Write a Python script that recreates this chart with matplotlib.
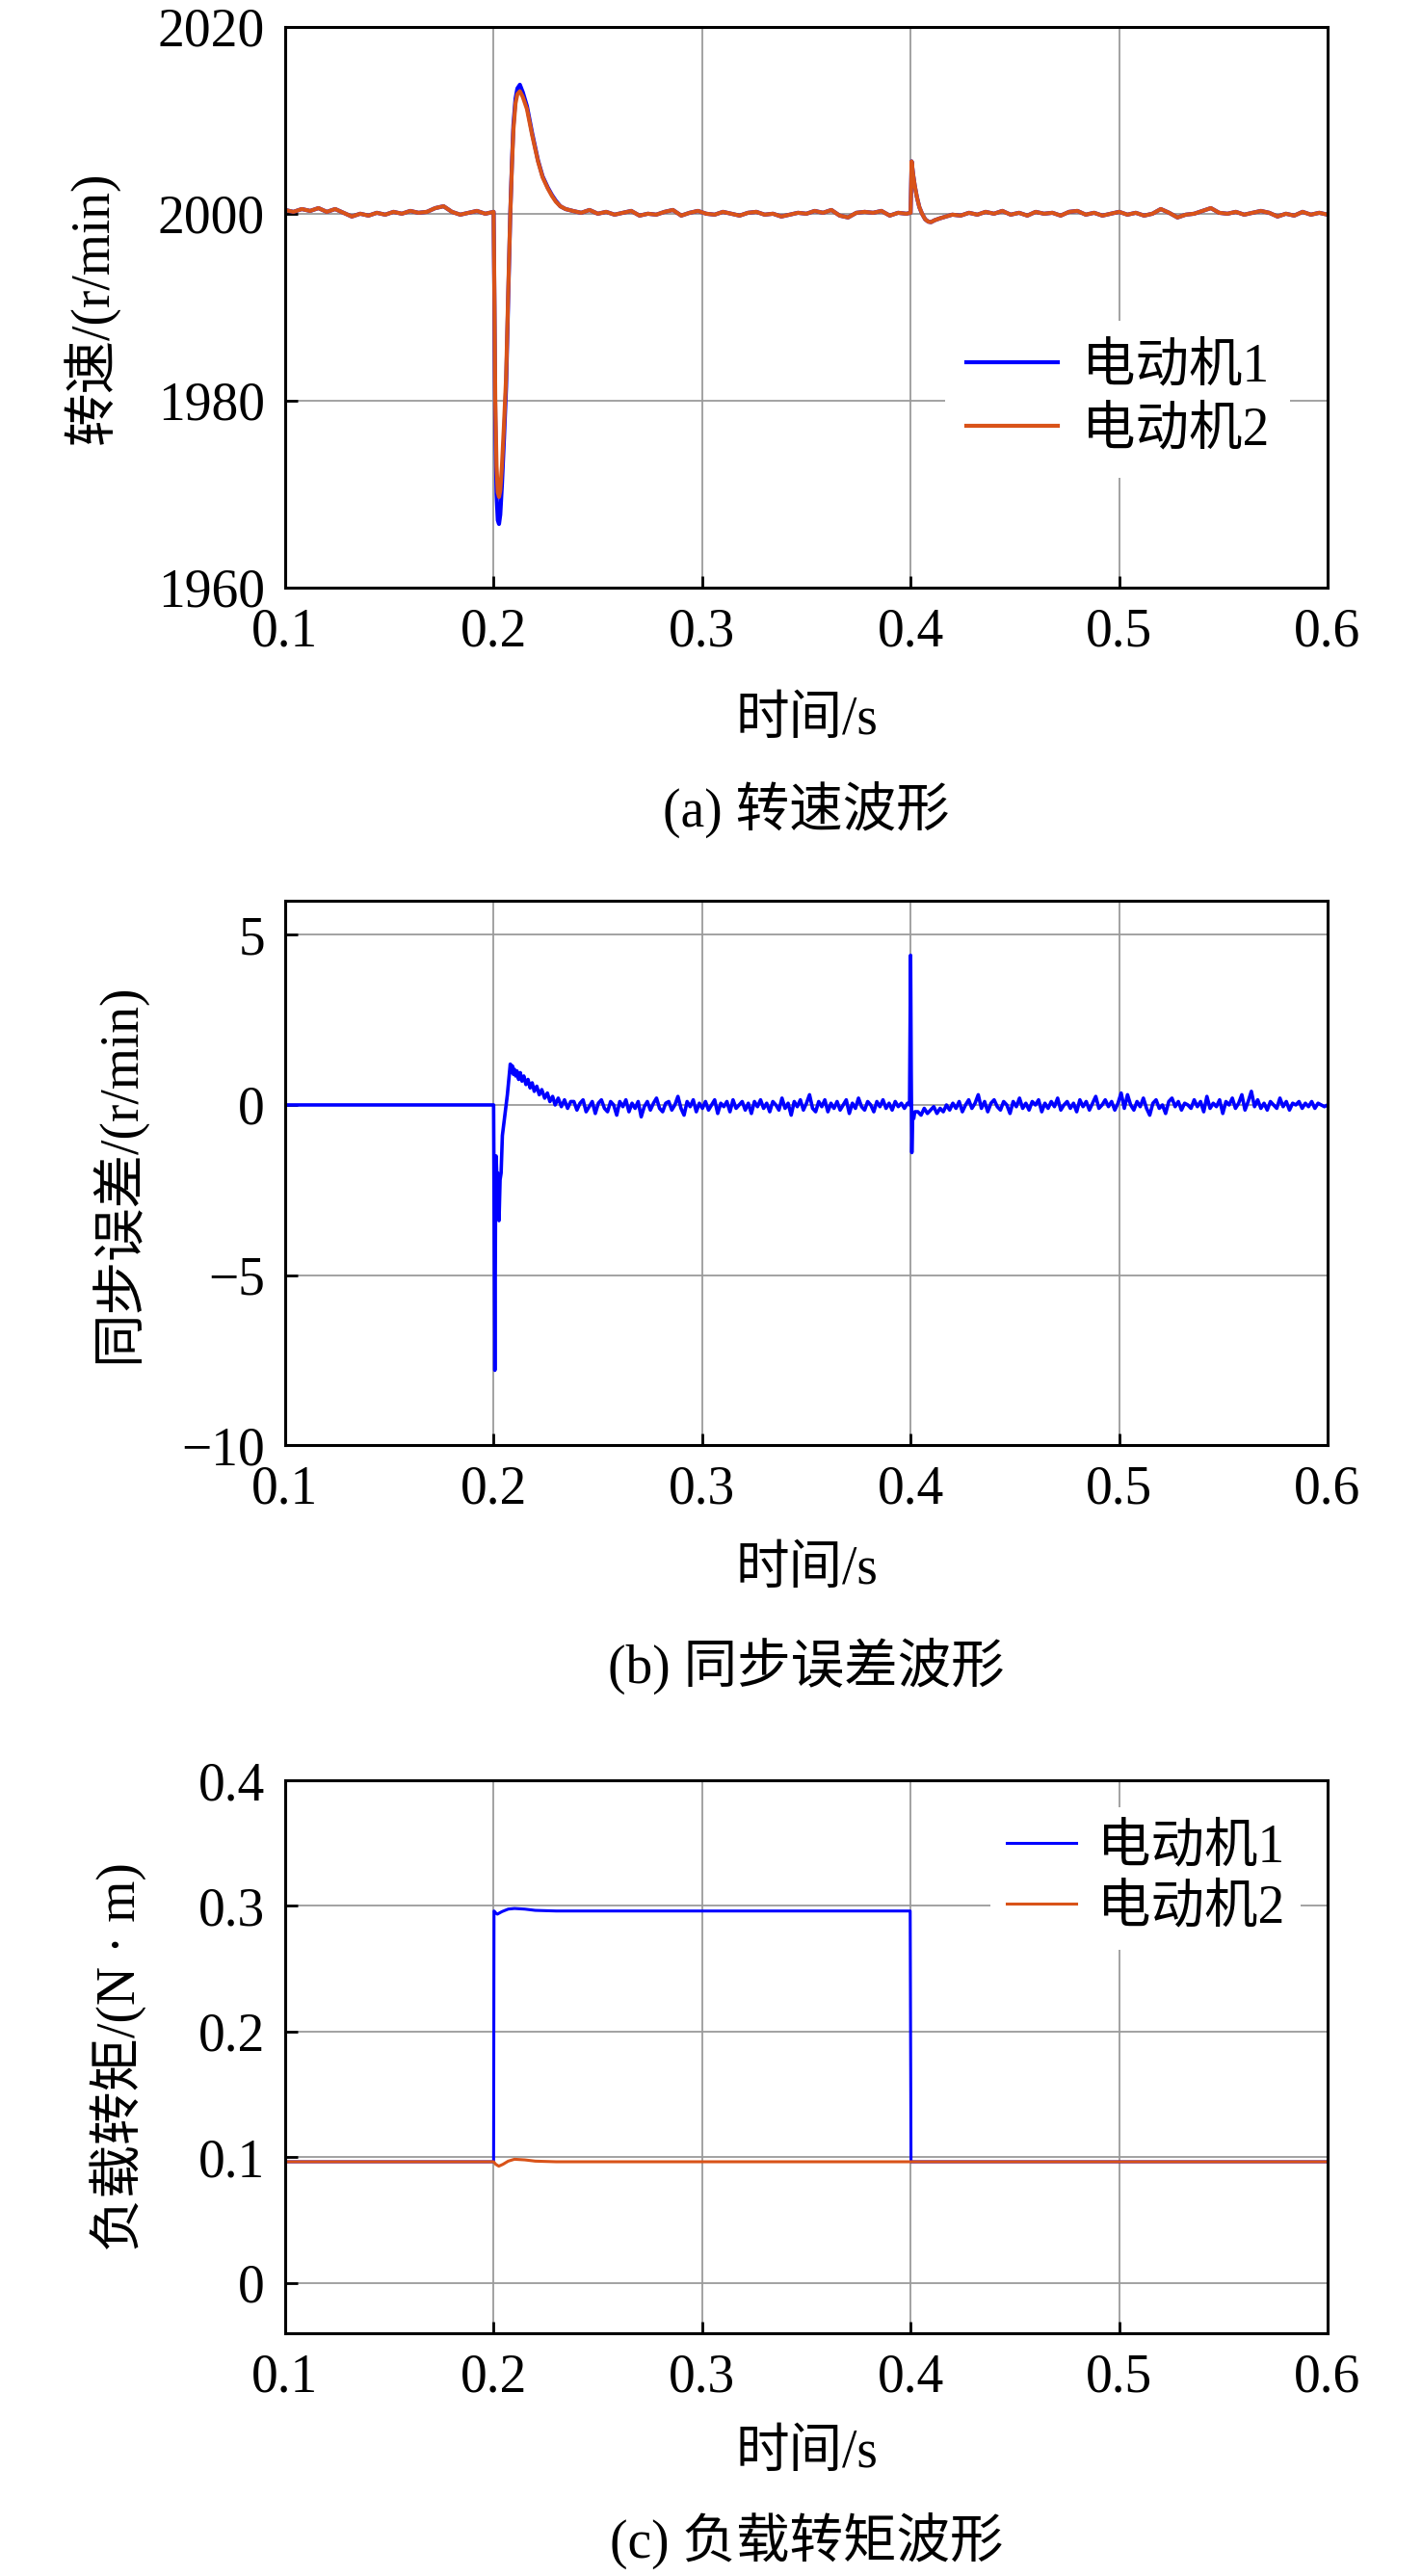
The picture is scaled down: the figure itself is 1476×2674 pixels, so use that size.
import matplotlib
matplotlib.use('Agg')
import matplotlib.pyplot as plt
import numpy as np

plt.rcParams['font.family'] = ['Liberation Serif', 'Noto Sans CJK SC']
plt.rcParams['font.size'] = 40

blue = '#0000FF'
orange = '#D95319'

x_ticks = [0.1, 0.2, 0.3, 0.4, 0.5, 0.6]

# ---------- (a) 转速 ----------
speed_noise_1 = [2000.4, 2000.2, 2000.5, 2000.3, 2000.6, 2000.2, 2000.5, 2000.1, 1999.7, 2000.0,
                 1999.8, 2000.1, 1999.9, 2000.2, 2000.0, 2000.3, 2000.1, 2000.2, 2000.6, 2000.8,
                 2000.2, 1999.9, 2000.1, 2000.3, 2000.0]
t_dip = [0.2000, 0.2004, 0.2008, 0.2014, 0.2020, 0.2026, 0.2032, 0.2040, 0.2050, 0.2060,
         0.2070, 0.2080, 0.2088, 0.2095, 0.2105, 0.2114, 0.2126, 0.2140, 0.2160, 0.2185,
         0.2213, 0.2235, 0.2260, 0.2280, 0.2298, 0.2320, 0.2345]
dip_m1 = [2000.2, 1990.0, 1978.0, 1970.0, 1967.2, 1966.8, 1967.8, 1971.0, 1976.0, 1981.5,
          1991.0, 2000.0, 2005.5, 2009.5, 2012.3, 2013.4, 2013.8, 2013.0, 2011.5, 2008.6,
          2005.7, 2004.0, 2002.8, 2002.0, 2001.4, 2000.8, 2000.5]
dip_m2 = [2000.2, 1991.0, 1980.0, 1973.0, 1970.2, 1969.7, 1970.4, 1973.0, 1977.5, 1982.5,
          1991.5, 2000.0, 2005.2, 2009.0, 2011.8, 2012.8, 2013.1, 2012.5, 2011.2, 2008.4,
          2005.6, 2003.9, 2002.7, 2001.9, 2001.3, 2000.8, 2000.5]
speed_noise_2 = [2000.3, 2000.1, 2000.4, 2000.0, 2000.2, 1999.9, 2000.1, 2000.3, 1999.8, 2000.0,
                 1999.9, 2000.2, 2000.4, 1999.8, 2000.1, 2000.3, 2000.0, 1999.9, 2000.2, 2000.0,
                 1999.8, 2000.1, 2000.2, 1999.9, 2000.0, 1999.7, 1999.9, 2000.1, 2000.0, 2000.3,
                 2000.1, 2000.4, 1999.8, 1999.6, 2000.1, 2000.2, 2000.1, 2000.3, 1999.8, 2000.1,
                 2000.0]
t_bump = [0.4000, 0.4005, 0.4012, 0.4020, 0.4030, 0.4042, 0.4055, 0.4070, 0.4085, 0.4098,
          0.4115, 0.4140, 0.4170, 0.4200]
bump_speed = [2000.1, 2005.6, 2004.2, 2003.0, 2001.8, 2000.7, 2000.0, 1999.4, 1999.15, 1999.1,
              1999.3, 1999.5, 1999.7, 1999.9]
speed_noise_3 = [1999.8, 2000.1, 1999.9, 2000.2, 2000.0, 2000.3, 1999.9, 2000.1, 1999.8, 2000.2,
                 2000.0, 2000.1, 1999.8, 2000.2, 2000.3, 1999.9, 2000.1, 1999.8, 2000.0, 2000.2,
                 1999.9, 2000.1, 1999.8, 2000.0, 2000.5, 2000.1, 1999.6, 1999.9, 2000.0, 2000.3,
                 2000.6, 2000.1, 2000.0, 2000.2, 1999.9, 2000.1, 2000.3, 2000.1, 1999.7, 2000.0,
                 1999.8, 2000.2, 1999.9, 2000.1, 1999.9]

# ---------- (b) 同步误差 ----------
t_err_flat = [0.1, 0.2]
err_flat = [0.0, 0.0]
t_err_dip = [0.2003, 0.2006, 0.2009, 0.2012, 0.2016, 0.2020, 0.2026, 0.2031, 0.2036, 0.2042,
             0.2050, 0.2058, 0.2066, 0.2074, 0.2080, 0.2085, 0.2090, 0.2095, 0.2100, 0.2106,
             0.2112, 0.2120, 0.2128, 0.2136, 0.2145, 0.2155, 0.2165, 0.2175, 0.2185, 0.2195,
             0.2207, 0.2219, 0.2231, 0.2245, 0.2258, 0.2270, 0.2283, 0.2295, 0.2310, 0.2325,
             0.2340, 0.2355, 0.2370]
err_dip = [-4.0, -7.8, -3.5, -1.5, -2.2, -2.0, -3.4, -2.2, -2.0, -0.9,
           -0.5, -0.1, 0.3, 0.8, 1.2, 0.95, 1.15, 0.9, 1.05, 0.85,
           1.0, 0.75, 0.95, 0.7, 0.85, 0.6, 0.75, 0.5, 0.65, 0.4,
           0.55, 0.3, 0.45, 0.2, 0.35, 0.1, 0.25, 0.0, 0.2, -0.05,
           0.15, -0.1, 0.1]
err_noise_1 = [0.1, -0.15, 0.05, 0.15, -0.2, -0.05, 0.1, -0.25, 0.05, 0.15,
               -0.1, -0.2, 0.1, 0.0, -0.3, 0.1, -0.05, 0.15, -0.2, 0.05,
               -0.1, 0.1, -0.35, -0.05, 0.1, -0.15, 0.05, 0.2, -0.1, -0.2,
               0.05, 0.1, -0.15, 0.0, 0.25, -0.1, -0.3, 0.1, -0.05, 0.15,
               -0.2, 0.05, -0.1, 0.1, -0.15, 0.0, 0.15, -0.25, 0.05, -0.05,
               0.1, -0.2, 0.15, -0.1, 0.0, 0.1, -0.15, 0.05, -0.25, 0.1,
               -0.05, 0.15, -0.1, 0.05, -0.2, 0.1, 0.0, -0.15, 0.2, -0.1,
               0.05, -0.3, 0.1, -0.05, 0.15, -0.15, 0.05, 0.3, -0.1, -0.2,
               0.1, -0.05, 0.15, -0.2, 0.05, -0.1, 0.1, -0.15, 0.0, 0.15,
               -0.25, 0.05, -0.1, 0.2, -0.05, -0.15, 0.1, 0.0, -0.2, 0.1,
               -0.05, 0.15, -0.1, 0.05, -0.15, 0.1, -0.05, 0.05, -0.1, 0.05]
t_err_spike = [0.3995, 0.4000, 0.4003, 0.4006, 0.4010, 0.4015, 0.4020]
err_spike = [0.0, 4.4, 1.0, -1.4, -0.3, -0.4, -0.2]
err_noise_2 = [-0.2, -0.3, -0.1, -0.25, -0.15, -0.05, -0.25, -0.1, -0.2, 0.0,
               -0.15, 0.05, -0.1, 0.1, -0.2, 0.0, 0.15, -0.1, 0.05, 0.3,
               -0.1, 0.1, -0.2, 0.05, 0.15, -0.05, -0.15, 0.1, 0.0, -0.25,
               0.1, -0.05, 0.2, -0.1, 0.05, -0.15, 0.1, 0.0, 0.15, -0.2,
               0.05, -0.1, 0.1, -0.05, 0.2, -0.15, 0.0, 0.1, -0.1, 0.05,
               -0.2, 0.15, -0.05, 0.1, -0.15, 0.05, 0.25, -0.1, 0.0, 0.15,
               -0.05, 0.1, -0.15, 0.05, 0.35, -0.1, 0.3, 0.0, -0.15, 0.1,
               -0.05, 0.2, -0.1, -0.3, 0.05, 0.15, -0.1, 0.0, -0.25, 0.1,
               0.2, -0.05, 0.1, -0.15, 0.05, 0.0, -0.1, 0.15, -0.05, 0.1,
               -0.2, 0.25, -0.1, 0.05, -0.05, 0.15, -0.25, 0.1, 0.0, 0.2,
               -0.1, 0.05, 0.3, -0.15, 0.1, 0.4, -0.05, 0.15, -0.1, 0.05,
               -0.15, 0.1, 0.0, -0.1, 0.2, -0.05, 0.1, -0.15, 0.05, 0.0,
               0.1, -0.1, 0.05, -0.05, 0.1, -0.1, 0.05, 0.0, -0.05, 0.0]

# ---------- (c) 负载转矩 ----------
t_torque_1 = [0.1, 0.2, 0.2002, 0.2010, 0.2018, 0.2040, 0.2070, 0.2100, 0.2150, 0.2200, 0.2300,
              0.3998, 0.4002, 0.6]
torque_m1 = [0.0965, 0.0965, 0.296, 0.2945, 0.2935, 0.2955, 0.2975, 0.298, 0.2975, 0.2965, 0.296,
             0.296, 0.0965, 0.0965]
t_torque_2 = [0.1, 0.2, 0.2010, 0.2025, 0.2045, 0.2070, 0.2100, 0.2150, 0.2200, 0.2300, 0.6]
torque_m2 = [0.0965, 0.0965, 0.0945, 0.093, 0.0945, 0.0970, 0.0985, 0.098, 0.097, 0.0965, 0.0965]

# time axes of the noise segments (evenly sampled)
t_a = np.concatenate([np.linspace(0.1, 0.196, len(speed_noise_1)), t_dip,
                      np.linspace(0.238, 0.398, len(speed_noise_2)), t_bump,
                      np.linspace(0.424, 0.6, len(speed_noise_3))])
speed_m1 = np.concatenate([speed_noise_1, dip_m1, speed_noise_2, bump_speed, speed_noise_3])
speed_m2 = np.concatenate([speed_noise_1, dip_m2, speed_noise_2, bump_speed, speed_noise_3])

t_b = np.concatenate([t_err_flat, t_err_dip, np.linspace(0.2385, 0.3985, len(err_noise_1)),
                      t_err_spike, np.linspace(0.4035, 0.6, len(err_noise_2))])
err = np.concatenate([err_flat, err_dip, err_noise_1, err_spike, err_noise_2])

fig = plt.figure(figsize=(14.76, 26.74), dpi=100)
ax_a = fig.add_axes([0.2005, 0.7719, 0.7331, 0.2177])
ax_b = fig.add_axes([0.2005, 0.4390, 0.7331, 0.2113])
ax_c = fig.add_axes([0.2005, 0.0942, 0.7331, 0.2147])


def style(ax):
    ax.set_xlim(0.1, 0.6)
    ax.set_xticks(x_ticks)
    ax.grid(True, color='#9b9b9b', linewidth=1.3)
    ax.set_axisbelow(True)
    ax.tick_params(direction='in', length=9, width=2, labelsize=40, pad=15,
                   top=False, right=False)
    for s in ax.spines.values():
        s.set_linewidth(2.2)


# (a)
ax_a.plot(t_a, speed_m1, color=blue, lw=3.0, label='电动机1')
ax_a.plot(t_a, speed_m2, color=orange, lw=3.0, label='电动机2')
style(ax_a)
ax_a.set_ylim(1960, 2020)
ax_a.set_yticks([1960, 1980, 2000, 2020])
ax_a.set_ylabel('转速/(r/min)')
ax_a.yaxis.set_label_coords(-0.1867, 0.5)
ax_a.yaxis.label.set_va('center')
ax_a.set_xlabel('时间/s')
ax_a.xaxis.set_label_coords(0.5, -0.237)
ax_a.xaxis.label.set_va('center')
leg = ax_a.legend(loc='center right', bbox_to_anchor=(0.99, 0.336), fontsize=40,
                  handlelength=1.7, handletextpad=0.45, labelspacing=0.25,
                  borderpad=0.4, framealpha=1, fancybox=False)
leg.get_frame().set_edgecolor('none')

# (b)
ax_b.plot(t_b, err, color=blue, lw=2.6)
style(ax_b)
ax_b.set_ylim(-10, 6)
ax_b.set_yticks([-10, -5, 0, 5])
ax_b.set_ylabel('同步误差/(r/min)')
ax_b.yaxis.set_label_coords(-0.160, 0.5)
ax_b.yaxis.label.set_va('center')
ax_b.set_xlabel('时间/s')
ax_b.xaxis.set_label_coords(0.5, -0.230)
ax_b.xaxis.label.set_va('center')

# (c)
ax_c.plot(t_torque_1, torque_m1, color=blue, lw=2.2, label='电动机1')
ax_c.plot(t_torque_2, torque_m2, color=orange, lw=2.2, label='电动机2')
style(ax_c)
ax_c.set_ylim(-0.04, 0.4)
ax_c.set_yticks([0, 0.1, 0.2, 0.3, 0.4])
ax_c.set_yticklabels(['0', '0.1', '0.2', '0.3', '0.4'])
ax_c.set_ylabel('负载转矩/(N · m)')
ax_c.yaxis.set_label_coords(-0.160, 0.5)
ax_c.yaxis.label.set_va('center')
ax_c.set_xlabel('时间/s')
ax_c.xaxis.set_label_coords(0.5, -0.218)
ax_c.xaxis.label.set_va('center')
leg = ax_c.legend(loc='upper right', bbox_to_anchor=(1.0, 1.0), fontsize=40,
                  handlelength=1.3, handletextpad=0.4, labelspacing=0.2,
                  borderpad=0.3, framealpha=1, fancybox=False)
leg.get_frame().set_edgecolor('none')

# captions
fig.text(0.567, 0.6859, '(a) 转速波形', ha='center', va='center', fontsize=40)
fig.text(0.567, 0.3534, '(b) 同步误差波形', ha='center', va='center', fontsize=40)
fig.text(0.567, 0.0138, '(c) 负载转矩波形', ha='center', va='center', fontsize=40)

fig.savefig('out.png', dpi=100)
